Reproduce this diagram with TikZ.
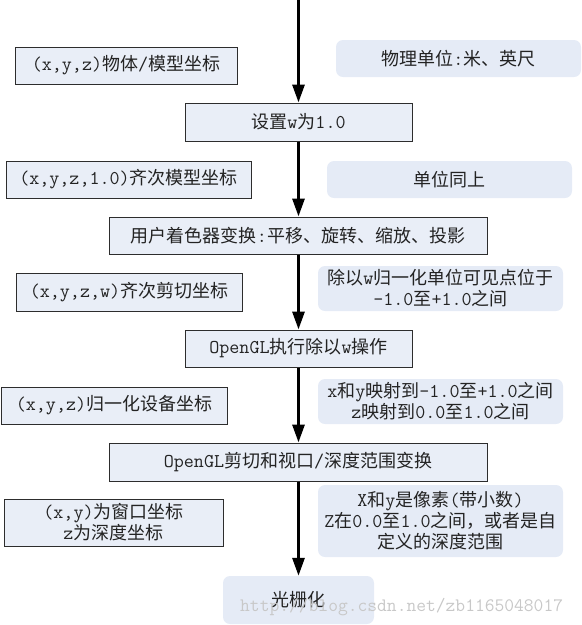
\documentclass[tikz,border=0pt]{standalone}
\usepackage{fontspec}
\setmainfont{Noto Sans CJK SC}
\usetikzlibrary{arrows.meta}
\newcommand\hwt[1]{{\ttfamily\fontsize{19.5}{21}\selectfont #1}}
\definecolor{boxfill}{RGB}{233,238,247}
\definecolor{rfill}{RGB}{229,235,246}
\definecolor{boxline}{RGB}{45,45,45}
\definecolor{txt}{RGB}{35,35,35}
\definecolor{wm}{RGB}{200,200,200}
\tikzset{
  base/.style={inner sep=0pt, align=center, text=txt,
    font=\fontsize{18}{21}\selectfont},
  sqbox/.style={base, draw=boxline, line width=1pt, fill=boxfill},
  rdbox/.style={base, fill=rfill, rounded corners=7pt},
  flow/.style={line width=3pt, draw=black,
    -{Triangle[length=18pt,width=12pt]}, shorten >=0pt},
}
\begin{document}
\begin{tikzpicture}[x=1pt,y=-1pt]
\useasboundingbox (0,0) rectangle (582,625);
% centre column
\node[sqbox, minimum width=227, minimum height=38] (s1) at (298.5,122) {设置\hwt{w}为\hwt{1.0}};
\node[sqbox, minimum width=378, minimum height=37] (s2) at (298,235.5) {用户着色器变换\hwt{:}平移、旋转、缩放、投影};
\node[sqbox, minimum width=227, minimum height=37] (s3) at (298.5,348.5) {\hwt{OpenGL}执行除以\hwt{w}操作};
\node[sqbox, minimum width=378, minimum height=38] (s4) at (298,462) {\hwt{OpenGL}剪切和视口\hwt{/}深度范围变换};
\node[rdbox, minimum width=151, minimum height=48] (s5) at (298.5,600) {光栅化};
% left boxes
\node[sqbox, minimum width=222, minimum height=37] (b1) at (126,65.5) {\hwt{(x,y,z)}物体\hwt{/}模型坐标};
\node[sqbox, minimum width=245, minimum height=37] (b2) at (128.5,179.5) {\hwt{(x,y,z,1.0)}齐次模型坐标};
\node[sqbox, minimum width=226, minimum height=38] (b3) at (129,292) {\hwt{(x,y,z,w)}齐次剪切坐标};
\node[sqbox, minimum width=226, minimum height=37] (b4) at (114,405.5) {\hwt{(x,y,z)}归一化设备坐标};
\node[sqbox, minimum width=219, minimum height=47] (b5) at (113.5,522.5) {\hwt{(x,y)}为窗口坐标\\\hwt{z}为深度坐标};
% right notes
\node[rdbox, minimum width=245, minimum height=37] (r1) at (458.5,58.5) {物理单位\hwt{:}米、英尺};
\node[rdbox, minimum width=245, minimum height=37] (r2) at (449.5,179.5) {单位同上};
\node[rdbox, minimum width=245, minimum height=45] (r3) at (440.5,288.5) {除以\hwt{w}归一化单位可见点位于\\\hwt{-1.0}至\hwt{+1.0}之间};
\node[rdbox, minimum width=245, minimum height=45] (r4) at (440.5,401.5) {\hwt{x}和\hwt{y}映射到\hwt{-1.0}至\hwt{+1.0}之间\\\hwt{z}映射到\hwt{0.0}至\hwt{1.0}之间};
\node[rdbox, minimum width=245, minimum height=72] (r5) at (440.5,521) {\hwt{X}和\hwt{y}是像素\hwt{(}带小数\hwt{)}\\\hwt{Z}在\hwt{0.0}至\hwt{1.0}之间，或者是自\\定义的深度范围};
% watermark
\node[inner sep=0pt, anchor=base west, text=wm, font=\ttfamily\fontsize{19}{21}\selectfont] (wmk) at (240,611) {http://blog.csdn.net/zb1165048017};
% flow arrows
\coordinate (start) at (298.5,0);
\draw[flow] (start) -- (s1.north);
\draw[flow] (s1.south) -- (s1.south |- s2.north);
\draw[flow] (s1.south |- s2.south) -- (s3.north);
\draw[flow] (s3.south) -- (s3.south |- s4.north);
\draw[flow] (s3.south |- s4.south) -- (s5.north);
\end{tikzpicture}
\end{document}
